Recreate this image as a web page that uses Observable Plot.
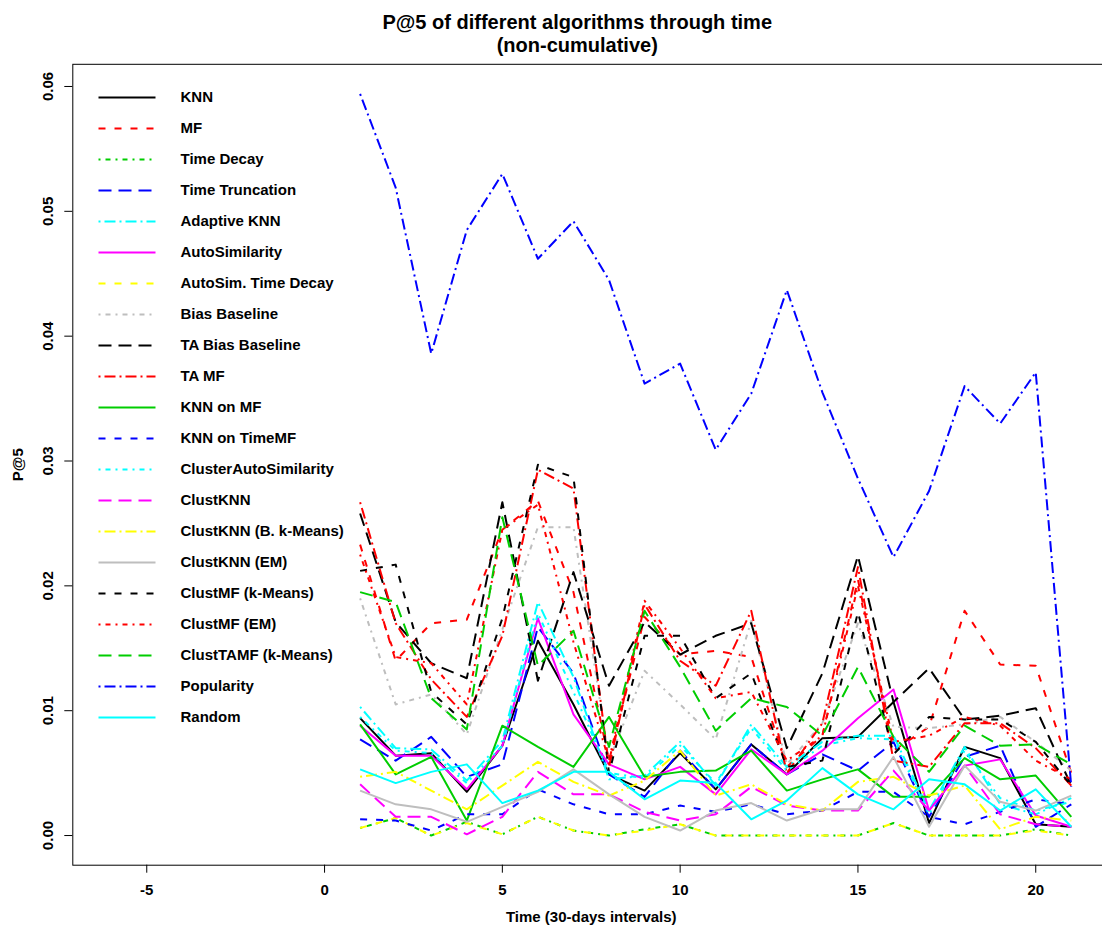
<!DOCTYPE html>
<html>
<head>
<meta charset="utf-8">
<script src="https://cdn.jsdelivr.net/npm/d3@7"></script>
<script src="https://cdn.jsdelivr.net/npm/@observablehq/plot@0.6"></script>
<style>
  html, body { margin: 0; padding: 0; background: #fff; overflow: hidden; }
  #chart svg { display: block; }
</style>
</head>
<body>
<div id="chart"></div>
<script>
// Time steps (30-day intervals)
const time = d3.range(1, 22);

// Algorithm names, in drawing/legend order
const algorithms = [
  "KNN", "MF", "Time Decay", "Time Truncation", "Adaptive KNN", "AutoSimilarity",
  "AutoSim. Time Decay", "Bias Baseline", "TA Bias Baseline", "TA MF", "KNN on MF",
  "KNN on TimeMF", "ClusterAutoSimilarity", "ClustKNN", "ClustKNN (B. k-Means)",
  "ClustKNN (EM)", "ClustMF (k-Means)", "ClustMF (EM)", "ClustTAMF (k-Means)",
  "Popularity", "Random"
];

// P@5 per interval for each algorithm
const knn            = [0.0094,0.0064,0.0066,0.0035,0.0072,0.0156,0.0105,0.0049,0.0036,0.0066,0.0037,0.0073,0.0049,0.0078,0.0079,0.0107,0.0010,0.0071,0.0062,0.0009,0.0007];
const mf             = [0.0233,0.0140,0.0170,0.0173,0.0245,0.0268,0.0195,0.0060,0.0175,0.0145,0.0148,0.0143,0.0055,0.0080,0.0205,0.0068,0.0087,0.0180,0.0137,0.0136,0.0050];
const timeDecay      = [0.0006,0.0014,0.0000,0.0011,0.0001,0.0015,0.0004,0.0000,0.0005,0.0009,0.0000,0.0000,0.0000,0.0000,0.0000,0.0010,0.0000,0.0000,0.0000,0.0005,0.0000];
const timeTruncation = [0.0077,0.0060,0.0079,0.0047,0.0057,0.0167,0.0130,0.0049,0.0031,0.0068,0.0037,0.0073,0.0049,0.0065,0.0052,0.0075,0.0015,0.0063,0.0072,0.0007,0.0025];
const adaptiveKnn    = [0.0103,0.0070,0.0069,0.0044,0.0076,0.0187,0.0127,0.0045,0.0048,0.0075,0.0040,0.0089,0.0055,0.0075,0.0080,0.0080,0.0020,0.0071,0.0025,0.0017,0.0030];
const autoSimilarity = [0.0088,0.0064,0.0064,0.0037,0.0072,0.0174,0.0097,0.0057,0.0045,0.0055,0.0033,0.0069,0.0049,0.0068,0.0094,0.0117,0.0020,0.0056,0.0061,0.0016,0.0007];
const autoSimDecay   = [0.0006,0.0014,0.0000,0.0010,0.0001,0.0015,0.0004,0.0000,0.0004,0.0009,0.0000,0.0000,0.0000,0.0000,0.0000,0.0010,0.0000,0.0000,0.0000,0.0004,0.0000];
const biasBaseline   = [0.0190,0.0105,0.0113,0.0081,0.0165,0.0247,0.0247,0.0060,0.0132,0.0105,0.0077,0.0172,0.0057,0.0090,0.0170,0.0087,0.0086,0.0089,0.0095,0.0075,0.0052];
const taBiasBaseline = [0.0258,0.0171,0.0138,0.0126,0.0267,0.0124,0.0211,0.0120,0.0171,0.0145,0.0160,0.0170,0.0070,0.0130,0.0224,0.0107,0.0134,0.0093,0.0096,0.0102,0.0040];
const taMf           = [0.0267,0.0170,0.0125,0.0095,0.0160,0.0293,0.0278,0.0055,0.0185,0.0140,0.0120,0.0180,0.0050,0.0090,0.0215,0.0060,0.0055,0.0090,0.0090,0.0070,0.0040];
const knnOnMf        = [0.0089,0.0049,0.0063,0.0012,0.0088,0.0071,0.0055,0.0095,0.0047,0.0051,0.0052,0.0068,0.0036,0.0045,0.0053,0.0031,0.0031,0.0062,0.0045,0.0048,0.0015];
const knnOnTimeMf    = [0.0013,0.0012,0.0004,0.0017,0.0017,0.0037,0.0025,0.0017,0.0017,0.0024,0.0019,0.0025,0.0017,0.0020,0.0035,0.0035,0.0015,0.0009,0.0019,0.0029,0.0025];
const clusterAutoSim = [0.0095,0.0068,0.0066,0.0042,0.0072,0.0178,0.0115,0.0050,0.0046,0.0072,0.0042,0.0086,0.0052,0.0072,0.0078,0.0077,0.0017,0.0068,0.0030,0.0020,0.0027];
const clustKnn       = [0.0041,0.0015,0.0015,0.0001,0.0015,0.0051,0.0033,0.0033,0.0019,0.0012,0.0017,0.0039,0.0024,0.0020,0.0020,0.0052,0.0020,0.0056,0.0017,0.0009,0.0007];
const clustKnnBkm    = [0.0047,0.0051,0.0036,0.0021,0.0040,0.0059,0.0043,0.0032,0.0044,0.0068,0.0032,0.0041,0.0025,0.0020,0.0043,0.0047,0.0032,0.0040,0.0005,0.0015,0.0012];
const clustKnnEm     = [0.0036,0.0025,0.0021,0.0011,0.0023,0.0035,0.0053,0.0033,0.0015,0.0004,0.0020,0.0026,0.0012,0.0021,0.0021,0.0063,0.0007,0.0056,0.0027,0.0020,0.0032];
const clustMfKm      = [0.0212,0.0217,0.0115,0.0089,0.0174,0.0297,0.0287,0.0050,0.0160,0.0160,0.0110,0.0130,0.0055,0.0060,0.0179,0.0065,0.0095,0.0093,0.0093,0.0075,0.0040];
const clustMfEm      = [0.0225,0.0143,0.0138,0.0105,0.0245,0.0265,0.0155,0.0060,0.0188,0.0150,0.0110,0.0115,0.0060,0.0080,0.0200,0.0075,0.0080,0.0095,0.0088,0.0060,0.0045];
const clustTamfKm    = [0.0195,0.0187,0.0110,0.0085,0.0255,0.0136,0.0164,0.0071,0.0180,0.0135,0.0084,0.0110,0.0103,0.0080,0.0135,0.0079,0.0051,0.0088,0.0072,0.0073,0.0057];
const popularity     = [0.0594,0.0519,0.0386,0.0485,0.0530,0.0462,0.0492,0.0445,0.0362,0.0378,0.0309,0.0354,0.0437,0.0355,0.0286,0.0223,0.0276,0.0360,0.0330,0.0371,0.0039];
const random         = [0.0053,0.0042,0.0051,0.0057,0.0026,0.0036,0.0051,0.0051,0.0029,0.0044,0.0042,0.0013,0.0028,0.0054,0.0033,0.0021,0.0045,0.0041,0.0020,0.0037,0.0007];

const seriesValues = [
  knn, mf, timeDecay, timeTruncation, adaptiveKnn, autoSimilarity, autoSimDecay,
  biasBaseline, taBiasBaseline, taMf, knnOnMf, knnOnTimeMf, clusterAutoSim, clustKnn,
  clustKnnBkm, clustKnnEm, clustMfKm, clustMfEm, clustTamfKm, popularity, random
];

// Axis ticks and x limits
const xTicks = [-5, 0, 5, 10, 15, 20];
const yTicks = [0, 0.01, 0.02, 0.03, 0.04, 0.05, 0.06];
const xLimits = [-6, 21];

// Line styles: base R palette colours and line types, cycled
const palette = ["#000000", "#FF0000", "#00CD00", "#0000FF", "#00FFFF", "#FF00FF", "#FFFF00", "#BEBEBE"];
// solid, dashed, dotted, longdash, dotdash
const lineTypes = [null, "7,9", "2,5,5,5", "13,7", "2,4,11,4"];
const colorOf = i => palette[i % palette.length];
const dashOf = i => lineTypes[i % lineTypes.length];

// Layout
const W = 1102, H = 929;
const margin = {top: 63.8, right: -7.2, bottom: 64.3, left: 72.3};
const pad = r => [r[0] - 0.04 * (r[1] - r[0]), r[1] + 0.04 * (r[1] - r[0])];
const xDomain = pad(xLimits);
const yDomain = pad([d3.min(seriesValues.flat()), d3.max(seriesValues.flat())]);
const px = d3.scaleLinear(xDomain, [margin.left, W - margin.right]);
const py = d3.scaleLinear(yDomain, [H - margin.bottom, margin.top]);

const font = "'Liberation Sans', Arial, Helvetica, sans-serif";

// Legend geometry (top-left inside the plot box)
const legendRow = i => py.invert(97 + 31 * i);
const legendX1 = px.invert(98), legendX2 = px.invert(155), legendTextX = px.invert(180);

const marks = [];

// One polyline per algorithm
seriesValues.forEach((values, i) => {
  const rows = time.map((t, j) => ({t, v: values[j]}));
  marks.push(Plot.line(rows, {
    x: "t", y: "v",
    stroke: colorOf(i), strokeWidth: 2,
    strokeDasharray: dashOf(i),
    strokeLinecap: "butt", strokeLinejoin: "round"
  }));
});

// Legend samples and labels
algorithms.forEach((name, i) => {
  marks.push(Plot.link([name], {
    x1: () => legendX1, x2: () => legendX2,
    y1: () => legendRow(i), y2: () => legendRow(i),
    stroke: colorOf(i), strokeWidth: 2,
    strokeDasharray: dashOf(i), strokeLinecap: "butt"
  }));
});
marks.push(Plot.text(algorithms, {
  x: () => legendTextX, y: (d, i) => legendRow(i), text: d => d,
  textAnchor: "start", lineAnchor: "middle", fill: "black",
  fontSize: 15, fontWeight: "bold"
}));

marks.push(
  Plot.frame({stroke: "black", strokeWidth: 1}),
  Plot.axisX({
    ticks: xTicks, tickSize: 8, tickPadding: 11, label: null,
    tickFormat: d => String(d), fontSize: 15, fontWeight: "bold"
  }),
  Plot.axisY({ticks: yTicks, tickSize: 8, tickFormat: () => "", label: null}),
  Plot.text(yTicks, {
    y: d => d, frameAnchor: "left", dx: -24.5, rotate: -90,
    text: d3.format(".2f"), textAnchor: "middle", lineAnchor: "middle",
    fontSize: 15, fontWeight: "bold"
  }),
  Plot.text(["P@5 of different algorithms through time\n(non-cumulative)"], {
    frameAnchor: "top", dx: -14, dy: -52, text: d => d, lineAnchor: "top",
    lineHeight: 1.15, fontSize: 20, fontWeight: "bold"
  }),
  Plot.text(["Time (30-days intervals)"], {
    frameAnchor: "bottom", dy: 52, text: d => d, lineAnchor: "middle",
    fontSize: 15, fontWeight: "bold"
  }),
  Plot.text(["P@5"], {
    frameAnchor: "left", dx: -55, rotate: -90, text: d => d,
    textAnchor: "middle", lineAnchor: "middle", fontSize: 15, fontWeight: "bold"
  })
);

const chart = Plot.plot({
  width: W, height: H,
  marginTop: margin.top, marginRight: margin.right,
  marginBottom: margin.bottom, marginLeft: margin.left,
  style: {fontFamily: font, background: "#fff", overflow: "hidden", color: "black"},
  x: {domain: xDomain},
  y: {domain: yDomain},
  marks
});
document.getElementById("chart").appendChild(chart);
</script>
</body>
</html>
